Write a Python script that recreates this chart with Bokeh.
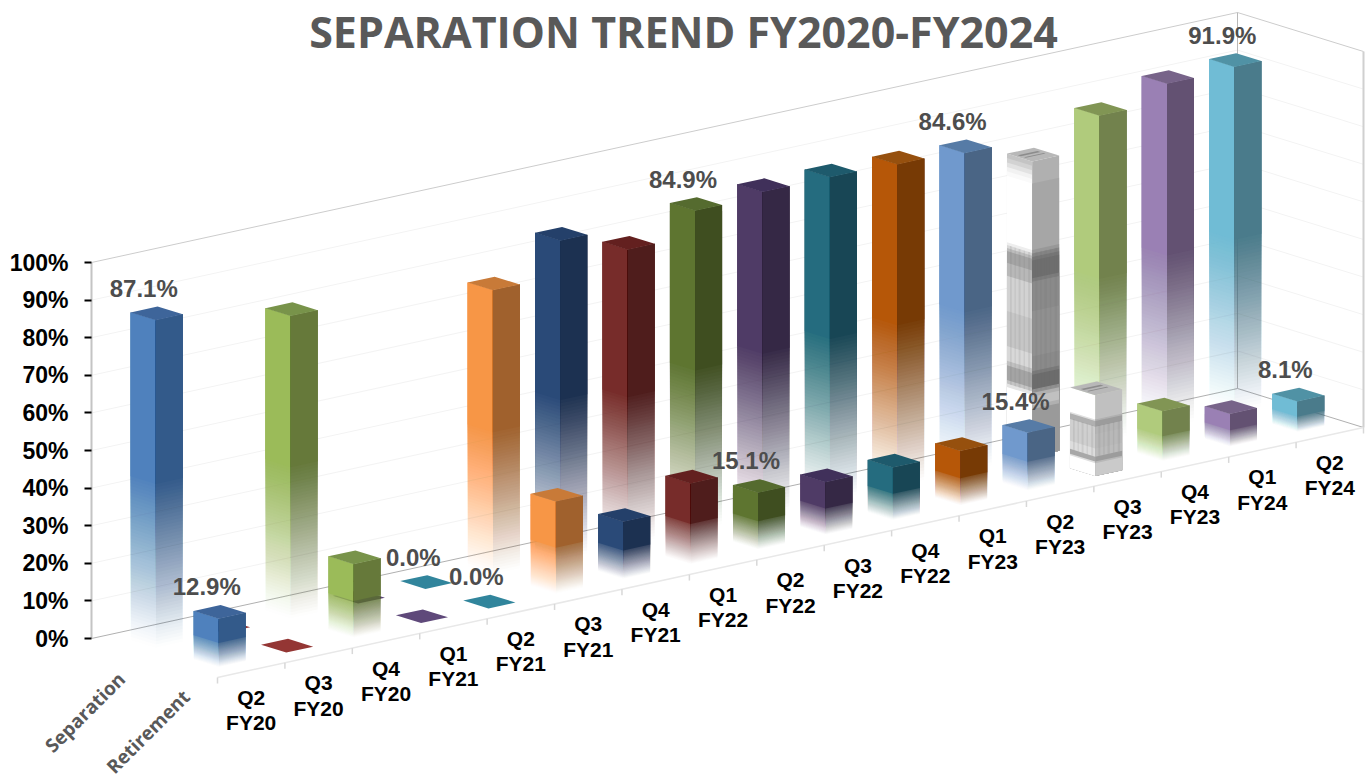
from bokeh.plotting import figure
from bokeh.models import ColumnDataSource, Range1d, LinearAxis, FixedTicker, Label, CustomJSTickFormatter
from bokeh.embed import file_html
from bokeh.resources import INLINE

CATEGORIES = ["Q2\nFY20", "Q3\nFY20", "Q4\nFY20", "Q1\nFY21", "Q2\nFY21", "Q3\nFY21", "Q4\nFY21",
              "Q1\nFY22", "Q2\nFY22", "Q3\nFY22", "Q4\nFY22", "Q1\nFY23", "Q2\nFY23", "Q3\nFY23",
              "Q4\nFY23", "Q1\nFY24", "Q2\nFY24"]
SEPARATION = [87.1, 0.0, 80.4, 0.0, 0.0, 75.5, 84.8, 78.5, 84.9, 86.0, 86.0, 85.5, 84.6, 78.5, 86.7, 91.3, 91.9]
RETIREMENT = [12.9, 0.0, 19.6, 0.0, 0.0, 24.5, 15.2, 21.5, 15.1, 14.0, 14.0, 14.5, 15.4, 21.5, 13.3, 8.7, 8.1]
SERIES = ["Separation", "Retirement"]
LABELLED = {0: [0, 8, 12, 16], 1: [0, 8, 12, 16]}
ZERO_LABELS = [(0, 4), (1, 4)]
TICKS = [0, 10, 20, 30, 40, 50, 60, 70, 80, 90, 100]
TITLE = "SEPARATION TREND FY2020-FY2024"

# front, side, top colour for each category
FRONT = ["#4F81BD", "#C0504D", "#9BBB59", "#8064A2", "#4BACC6", "#F79646", "#2A4A78", "#772C2A", "#5E7530",
         "#4F3B66", "#256C7F", "#B65708", "#7099CD", "#FFFFFF", "#B0CB7C", "#9A80B4", "#70BCD5"]
SIDE = ["#335A8A", "#7C3432", "#66793A", "#533F6B", "#31707F", "#A0612D", "#1C3151", "#4F1D1C", "#3F4E20",
        "#352845", "#184655", "#773A05", "#4A6585", "#A6A6A6", "#72824D", "#635172", "#4A7B8B"]
TOP = ["#3E659A", "#943634", "#78934A", "#5F497A", "#31859C", "#C87A38", "#24406A", "#63201F", "#556B2F",
       "#40305A", "#1E5A6C", "#96500E", "#567BA6", "#B8B8B8", "#819554", "#776389", "#5092A5"]

# texture of the two pale bars: (share of bar height from the top, grey)
SEP_FRONT_BANDS = [(.015, "#c4c4c4"), (.015, "#d2d2d2"), (.015, "#e2e2e2"), (.015, "#f2f2f2"), (.015, "#fafafa"),
                   (.225, "#ffffff"), (.01, "#eeeeee"), (.01, "#d8d8d8"), (.01, "#bcbcbc"), (.04, "#a4a4a4"),
                   (.044, "#b8b8b8"), (.119, "#d2d2d2"), (.119, "#c6c6c6"), (.05, "#d8d8d8"), (.015, "#c0c0c0"),
                   (.05, "#a4a4a4"), (.012, "#c4c4c4"), (.012, "#e4e4e4"), (.213, "#ffffff")]
SEP_SIDE_BANDS = [(.075, "#b0b0b0"), (.225, "#a6a6a6"), (.012, "#989898"), (.012, "#848484"), (.012, "#767676"),
                  (.06, "#6e6e6e"), (.012, "#7c7c7c"), (.10, "#8a8a8a"), (.153, "#909090"), (.05, "#8a8a8a"),
                  (.012, "#7a7a7a"), (.05, "#6c6c6c"), (.012, "#909090"), (.012, "#b0b0b0"), (.03, "#c0c0c0"),
                  (.012, "#b0b0b0"), (.171, "#9a9a9a")]
RET_FRONT_BANDS = [(.30, "#ffffff"), (.02, "#e0e0e0"), (.07, "#b0b0b0"), (.09, "#d0d0d0"), (.18, "#cfcfcf"),
                   (.10, "#dddddd"), (.06, "#a8a8a8"), (.02, "#e0e0e0"), (.16, "#ffffff")]
RET_SIDE_BANDS = [(.30, "#c0c0c0"), (.02, "#b0b0b0"), (.07, "#9c9c9c"), (.09, "#b5b5b5"), (.18, "#b8b8b8"),
                  (.10, "#bcbcbc"), (.06, "#9c9c9c"), (.02, "#b8b8b8"), (.16, "#cacaca")]

W, H = 1368, 778
X0, Y0 = 91.0, 638.0
UX, UY = 1146.0 / 17, -250.0 / 17
VX, VY = 63.0, 19.5
PX = 3.76
F0, F1 = 0.3, 0.7


def project(u, v, pct=0.0):
    return X0 + u * UX + v * VX, Y0 + u * UY + v * VY - pct * PX


xs, ys, colors, alphas = [], [], [], []


def poly(points, color, alpha=1.0):
    xs.append([q[0] for q in points])
    ys.append([q[1] for q in points])
    colors.append(color)
    alphas.append(alpha)


def face(a, b, lo, hi):
    return [project(a[0], a[1], lo), project(b[0], b[1], lo), project(b[0], b[1], hi), project(a[0], a[1], hi)]


N = 50
KINK = 0.5
FADES = (0.97, 0.85)


def faded_face(a, b, val, color, fade):
    prev = 0.0
    for k in range(N):
        t = fade * (k + 0.5) / N
        poly(face(a, b, KINK * k / N * val, val), color, 1 - (1 - t) / (1 - prev))
        prev = t
    poly(face(a, b, KINK * val, val), color, 1.0)


def banded_face(a, b, val, bands):
    start = 0.0
    for share, color in bands:
        poly(face(a, b, 0, val * (1 - start)), color)
        start += share


def stripes(a, b, val, lo, hi):
    for t, wid in ((.12, .07), (.3, .05), (.46, .08), (.66, .05), (.84, .08)):
        p0 = (a[0] + (b[0] - a[0]) * t, a[1] + (b[1] - a[1]) * t)
        p1 = (a[0] + (b[0] - a[0]) * (t + wid), a[1] + (b[1] - a[1]) * (t + wid))
        poly(face(p0, p1, lo * val, hi * val), "#707070", 0.14)


def top_face(i, row, val):
    u0, u1, v0, v1 = i + F0, i + F1, row + F0, row + F1
    poly([project(u0, v0, val), project(u0, v1, val), project(u1, v1, val), project(u1, v0, val)], TOP[i])
    if FRONT[i] == "#FFFFFF" and val > 0:
        for s, e in ((.3, .42), (.55, .62)):
            poly([project(u0 + .12 * .4, row + F0 + s * .4, val), project(u0 + .12 * .4, row + F0 + e * .4, val),
                  project(u1 - .06, row + F0 + e * .4, val), project(u1 - .06, row + F0 + s * .4, val)], "#8c8c8c")


def bar(i, row, val):
    u0, u1, v0, v1 = i + F0, i + F1, row + F0, row + F1
    if val > 0:
        left, front, right = (u0, v0), (u0, v1), (u1, v1)
        if FRONT[i] == "#FFFFFF":
            fb, sb = (SEP_FRONT_BANDS, SEP_SIDE_BANDS) if row == 0 else (RET_FRONT_BANDS, RET_SIDE_BANDS)
            banded_face(left, front, val, fb)
            banded_face(front, right, val, sb)
            lo, hi = (.22, .69) if row == 0 else (.24, .62)
            stripes(left, front, val, lo, hi)
            stripes(front, right, val, lo, hi)
        else:
            faded_face(left, front, val, FRONT[i], FADES[row])
            faded_face(front, right, val, SIDE[i], FADES[row])
    top_face(i, row, val)


for row, vals in enumerate((SEPARATION, RETIREMENT)):
    for i in range(len(vals) - 1, -1, -1):
        bar(i, row, vals[i])

p = figure(width=W, height=H, output_backend="svg", toolbar_location=None,
           x_range=Range1d(0, W), y_range=Range1d(H, 0),
           min_border_left=0, min_border_right=0, min_border_top=0, min_border_bottom=0,
           outline_line_color=None, x_axis_location=None, y_axis_location=None)
p.grid.visible = False
p.background_fill_color = "white"

# axis on the percentage scale, set at the wall's left edge
p.extra_y_ranges = {"pct": Range1d((Y0 - H) / PX, Y0 / PX)}
axis = LinearAxis(y_range_name="pct", ticker=FixedTicker(ticks=TICKS), bounds=(0, 100), fixed_location=X0,
                  formatter=CustomJSTickFormatter(code="return tick + '%'"))
axis.major_label_text_font = "Liberation Sans"
axis.major_label_text_font_style = "bold"
axis.major_label_text_font_size = "23px"
axis.major_label_text_color = "#000000"
axis.major_label_standoff = 16
axis.major_tick_out = 7
axis.major_tick_in = 0
axis.major_tick_line_color = "#000000"
axis.major_tick_line_width = 2
axis.minor_tick_line_color = None
axis.axis_line_color = "#c4c4c4"
axis.axis_line_width = 2
p.add_layout(axis, "left")

CATS = len(CATEGORIES)
DEPTH = len(SERIES)

# walls
for t in TICKS[1:-1]:
    a, b, c = project(0, 0, t), project(CATS, 0, t), project(CATS, DEPTH, t)
    p.line([a[0], b[0], c[0]], [a[1], b[1], c[1]], line_color="#f3f3f3", line_width=1)
a, b, c = project(0, 0, 100), project(CATS, 0, 100), project(CATS, DEPTH, 100)
p.line([a[0], b[0], c[0]], [a[1], b[1], c[1]], line_color="#cccccc", line_width=1)
a, b = project(CATS, 0, 0), project(CATS, 0, 100)
p.line([a[0], b[0]], [a[1], b[1]], line_color="#b8b8b8", line_width=1)
a, b = project(CATS, DEPTH, 0), project(CATS, DEPTH, 100)
p.line([a[0], b[0]], [a[1], b[1]], line_color="#d0d0d0", line_width=2)
a, b, c = project(0, 0, 0), project(CATS, 0, 0), project(CATS, DEPTH, 0)
p.line([a[0], b[0], c[0]], [a[1], b[1], c[1]], line_color="#b0b0b0", line_width=1)
a, b = project(0, DEPTH, 0), project(CATS, DEPTH, 0)
p.line([a[0], b[0]], [a[1], b[1]], line_color="#e8e8e8", line_width=1.5)
for i in range(CATS + 1):
    a = project(i, DEPTH, 0)
    p.line([a[0], a[0]], [a[1], a[1] + 6], line_color="#d8d8d8", line_width=1.5)

src = ColumnDataSource(dict(xs=xs, ys=ys, color=colors, alpha=alphas))
p.patches("xs", "ys", source=src, fill_color="color", fill_alpha="alpha", line_color=None)


def label(x, y, text, **kw):
    p.add_layout(Label(x=x, y=y, text=text, text_align="center", text_baseline="middle", **kw))


# data labels
for row, vals in enumerate((SEPARATION, RETIREMENT)):
    for i in LABELLED[row]:
        x, y = project(i + .5, row + .5, vals[i])
        label(x - 13, y - 25, f"{vals[i]:.1f}%", text_font="Liberation Sans", text_font_style="bold",
              text_font_size="24px", text_color="#4d4d4d")
for row, i in ZERO_LABELS:
    x, y = project(i + .5, row + .5, 0)
    label(x - 13, y - 25, "0.0%", text_font="Liberation Sans", text_font_style="bold",
          text_font_size="24px", text_color="#4d4d4d")

# category labels
for i, c in enumerate(CATEGORIES):
    x, y = project(i + .5, DEPTH, 0)
    label(x, y + 40, c, text_font="Liberation Sans", text_font_style="bold", text_font_size="21px",
          text_color="#000000", text_line_height=1.1)

# series labels
for j, s in enumerate(SERIES):
    x, y = project(0, j + .5, 0)
    label(x - 38, y + 64, s, text_font="Open Sans", text_font_style="bold", text_font_size="19px",
          text_color="#595959", angle=0.785, angle_units="rad")

label(683, 31, TITLE, text_font="Open Sans", text_font_style="bold", text_font_size="43px", text_color="#595959")

open("out.html", "w").write(file_html(p, INLINE))
